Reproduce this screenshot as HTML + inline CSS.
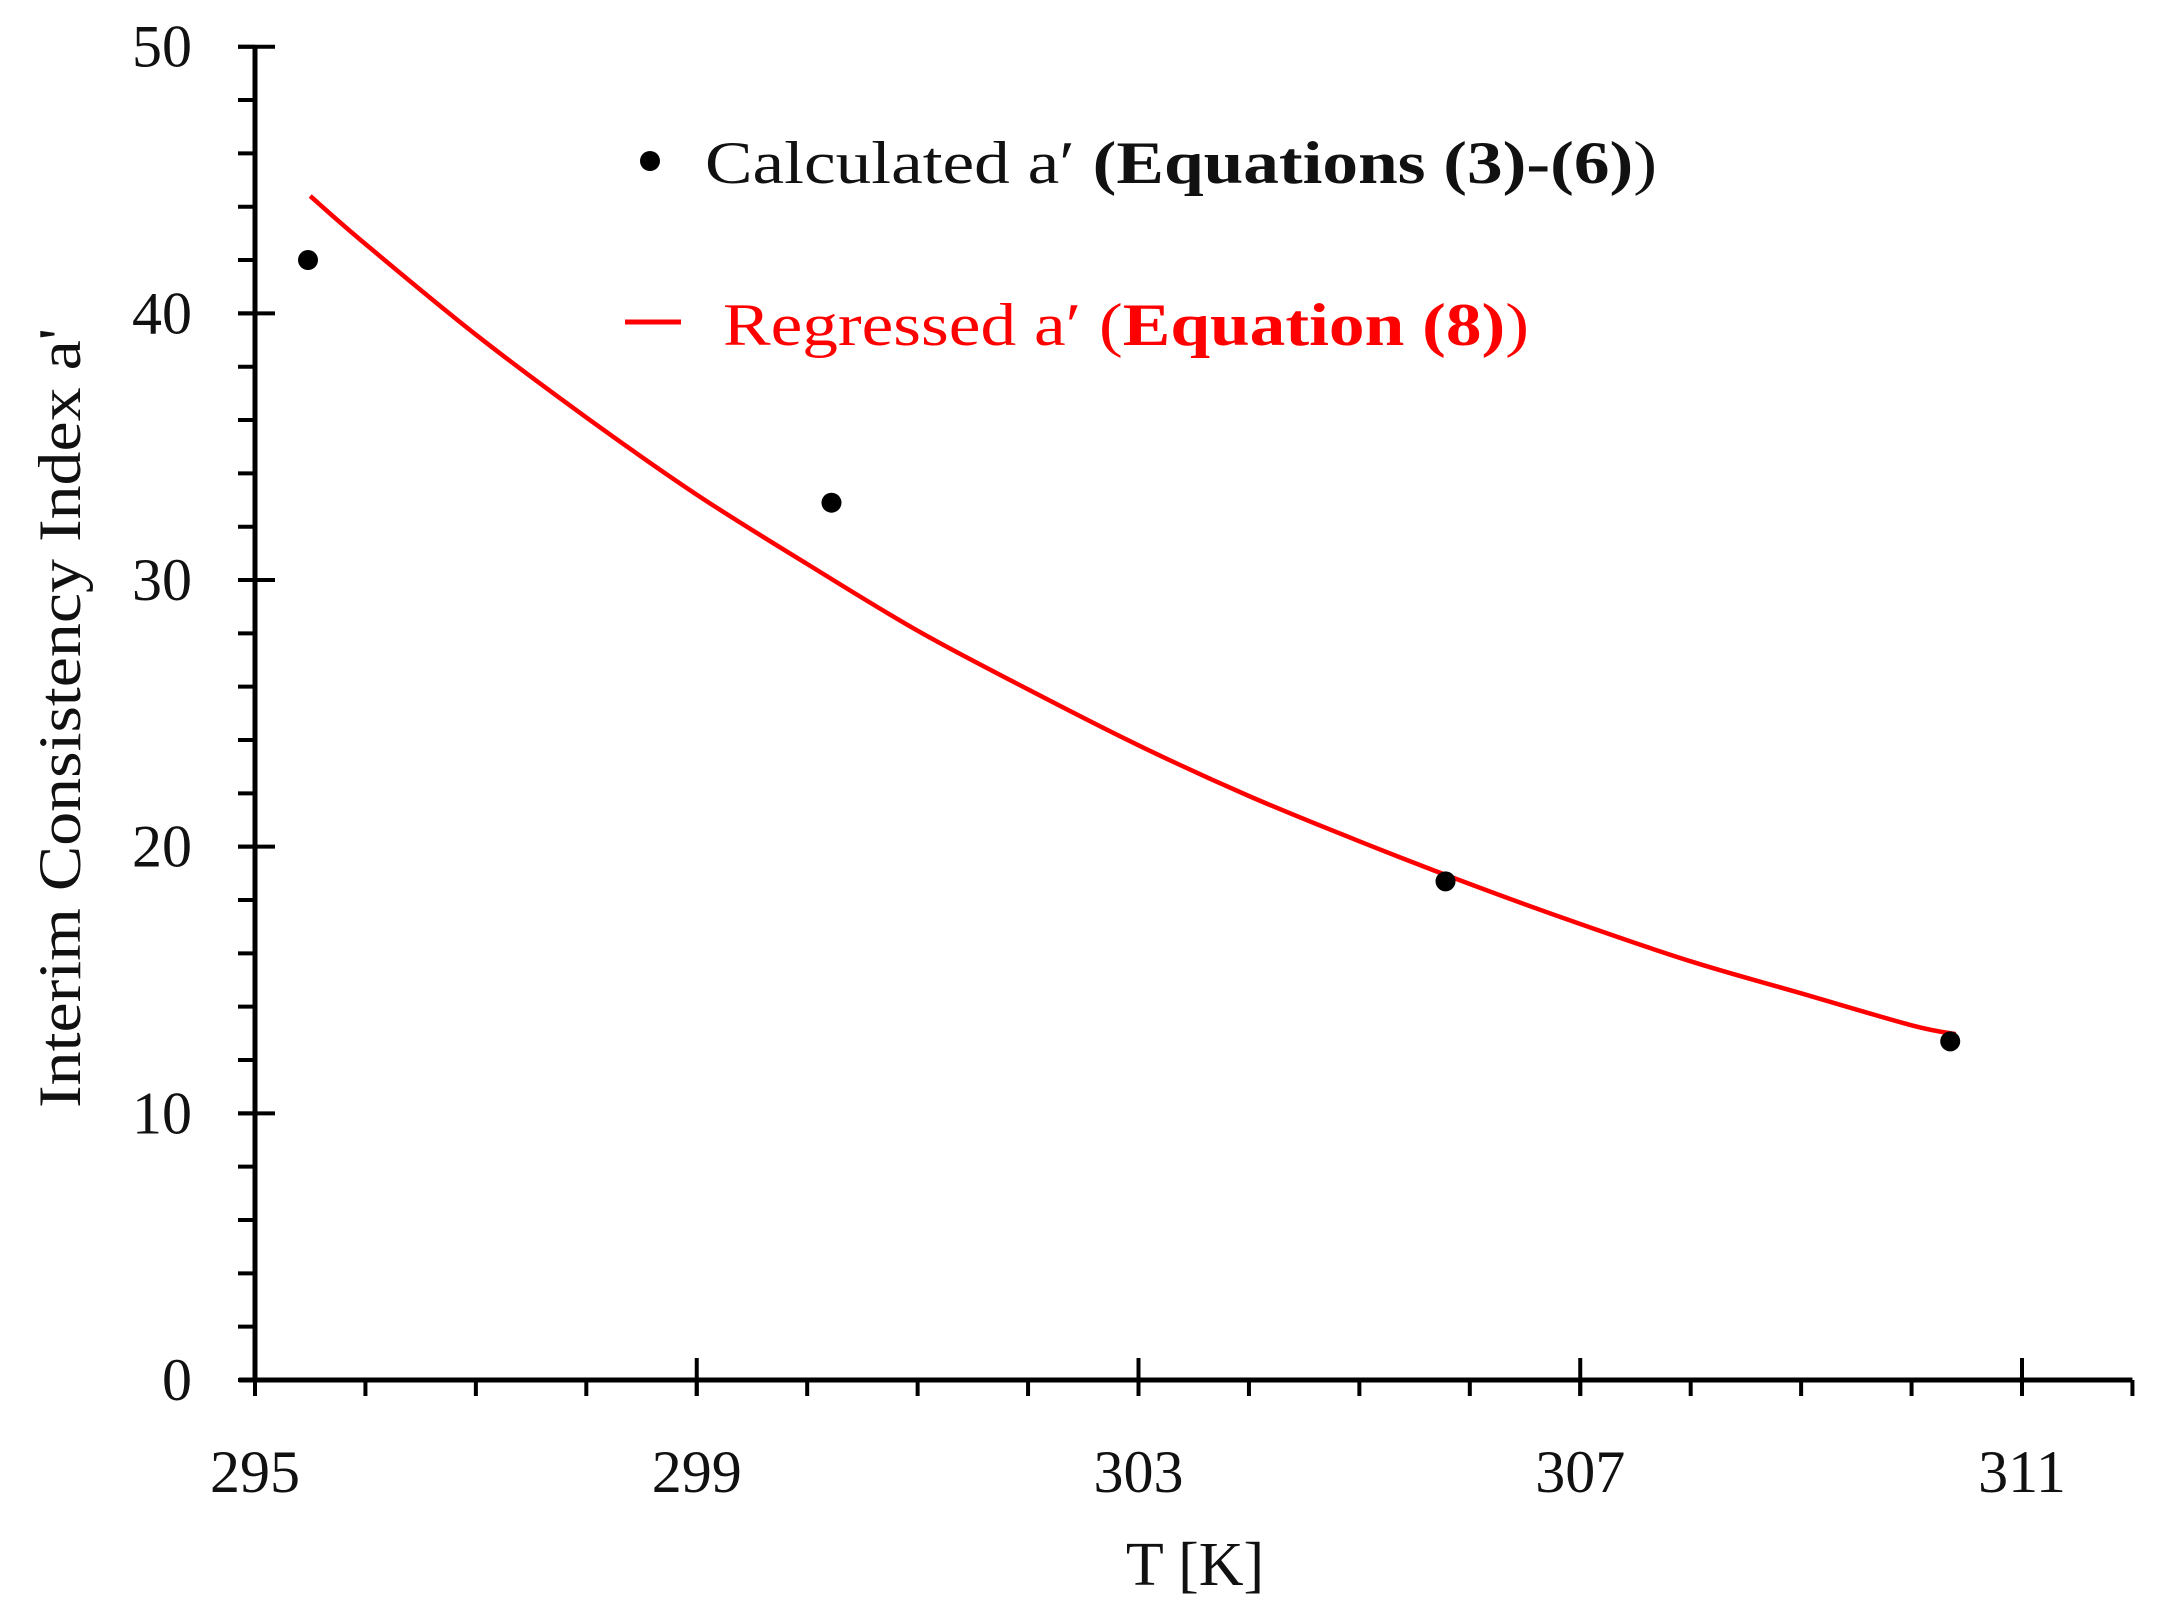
<!DOCTYPE html>
<html><head><meta charset="utf-8"><style>
html,body{margin:0;padding:0;background:#fff}
svg{display:block}
text{font-family:"Liberation Serif",serif}
</style></head><body>
<svg id="chart" width="2174" height="1620" viewBox="0 0 2174 1620" xmlns="http://www.w3.org/2000/svg">
<g id="axes"></g>
<g id="marks"></g>
<text transform="translate(80,718) rotate(-90)" text-anchor="middle" font-size="60" fill="#111" textLength="780" lengthAdjust="spacingAndGlyphs">Interim Consistency Index a'</text>
<text x="1195" y="1585" text-anchor="middle" font-size="62" fill="#111">T [K]</text>
<g>
<circle cx="650" cy="161" r="10" fill="#000"/>
<text x="705" y="183" font-size="60" fill="#111" textLength="952" lengthAdjust="spacingAndGlyphs">Calculated a′ <tspan font-weight="bold">(Equations (3)-(6)</tspan>)</text>
<line x1="625" y1="322" x2="681" y2="322" stroke="#f00" stroke-width="5"/>
<text x="723" y="345" font-size="60" fill="#f00" textLength="806" lengthAdjust="spacingAndGlyphs">Regressed a′ (<tspan font-weight="bold">Equation (8)</tspan>)</text>
</g>
</svg>
<script>
const xTicks = [295, 299, 303, 307, 311];
const yTicks = [0, 10, 20, 30, 40, 50];
const pointT = [295.48, 300.22, 305.78, 310.35];
const pointA = [42.0, 32.9, 18.7, 12.7];
const curveT = [295.5, 296, 297, 298, 299, 300, 301, 302, 303, 304, 305, 306, 307, 308, 309, 310, 310.4];
const curveA = [44.4, 42.6, 39.2, 36.1, 33.2, 30.6, 28.1, 25.9, 23.8, 21.9, 20.2, 18.6, 17.1, 15.7, 14.5, 13.3, 12.97];

const NS = 'http://www.w3.org/2000/svg';
const X0 = 255, X1 = 2022, T0 = 295, T1 = 311;
const Y0 = 1380, Y1 = 46.7, A0 = 0, A1 = 50;
function sx(t){ return X0 + (t - T0) * (X1 - X0) / (T1 - T0); }
function sy(a){ return Y0 + (a - A0) * (Y1 - Y0) / (A1 - A0); }
function mk(tag, attrs, parent){ const e = document.createElementNS(NS, tag); for (const k in attrs) e.setAttribute(k, attrs[k]); parent.appendChild(e); return e; }

const axes = document.getElementById('axes');
const marks = document.getElementById('marks');
const xEnd = sx(312);

let e = mk('line', {x1: X0, y1: sy(50), x2: X0, y2: Y0, stroke: '#000', 'stroke-width': 5}, axes);


e = mk('line', {x1: X0 - 16, y1: Y0, x2: xEnd, y2: Y0, stroke: '#000', 'stroke-width': 5}, axes);



for (let v = 0; v <= 50; v += 2) {
  e = mk('line', {x1: X0 - 17, y1: sy(v), x2: X0, y2: sy(v), stroke: '#000', 'stroke-width': 4}, axes);
  
  
}
yTicks.forEach(v => {
  let t = mk('line', {x1: X0 - 17, y1: sy(v), x2: X0 + 20, y2: sy(v), stroke: '#000', 'stroke-width': 4}, axes);
  
  
  let l = mk('text', {x: 192, y: sy(v) + 20, 'text-anchor': 'end', 'font-size': 60, fill: '#111'}, axes);
  l.textContent = v;
  
  
});
for (let t = 295; t <= 312; t++) {
  e = mk('line', {x1: sx(t), y1: Y0, x2: sx(t), y2: Y0 + 16, stroke: '#000', 'stroke-width': 4}, axes);
  
  
}
xTicks.forEach(v => {
  let t = mk('line', {x1: sx(v), y1: Y0 - 22, x2: sx(v), y2: Y0 + 16, stroke: '#000', 'stroke-width': 4}, axes);
  
  
  let l = mk('text', {x: sx(v), y: 1492, 'text-anchor': 'middle', 'font-size': 60, fill: '#111'}, axes);
  l.textContent = v;
  
  
});

// smooth regression curve (Catmull-Rom through data points)
const P = curveT.map((t, i) => [sx(t), sy(curveA[i])]);
let d = 'M' + P[0][0].toFixed(1) + ',' + P[0][1].toFixed(1);
for (let i = 0; i < P.length - 1; i++) {
  const p0 = P[Math.max(0, i - 1)], p1 = P[i], p2 = P[i + 1], p3 = P[Math.min(P.length - 1, i + 2)];
  const c1 = [p1[0] + (p2[0] - p0[0]) / 6, p1[1] + (p2[1] - p0[1]) / 6];
  const c2 = [p2[0] - (p3[0] - p1[0]) / 6, p2[1] - (p3[1] - p1[1]) / 6];
  d += ' C' + c1[0].toFixed(1) + ',' + c1[1].toFixed(1) + ' ' + c2[0].toFixed(1) + ',' + c2[1].toFixed(1) + ' ' + p2[0].toFixed(1) + ',' + p2[1].toFixed(1);
}
e = mk('path', {d: d, fill: 'none', stroke: '#f00', 'stroke-width': 4.5, 'stroke-linejoin': 'round'}, marks);



pointT.forEach((t, i) => {
  let c = mk('circle', {cx: sx(t), cy: sy(pointA[i]), r: 10, fill: '#000'}, marks);
  
  
});
</script>
</body></html>
